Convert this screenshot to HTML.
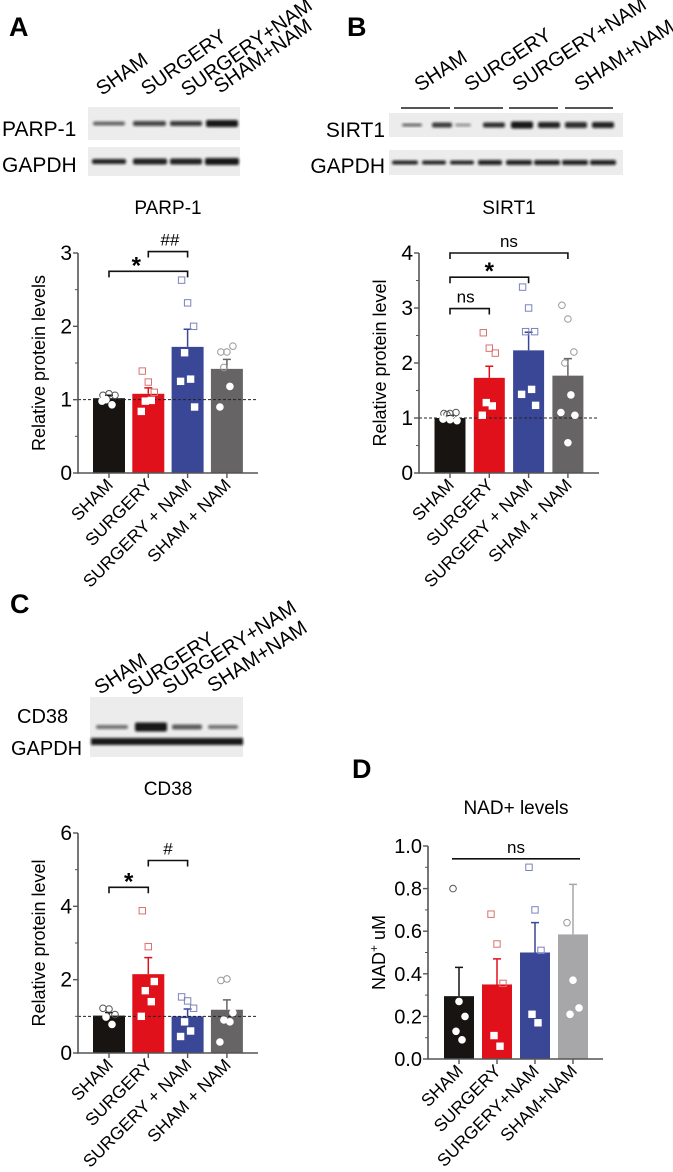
<!DOCTYPE html>
<html><head><meta charset="utf-8"><style>
html,body{margin:0;padding:0;background:#fff;}
svg{display:block;font-family:"Liberation Sans",Arial,sans-serif;}
</style></head><body>
<svg id="fig" width="673" height="1172" viewBox="0 0 673 1172" xmlns="http://www.w3.org/2000/svg">
<defs><filter id="bl" x="-10%" y="-50%" width="120%" height="200%"><feGaussianBlur stdDeviation="1.2"/></filter></defs>
<g font-weight="bold" font-size="27">
<text x="9" y="36">A</text>
<text x="347" y="36">B</text>
<text x="10" y="613">C</text>
<text x="352" y="778">D</text>
</g>
<g id="blots"></g>
<g id="charts"></g>
</svg>
<script>
// ---------- data ----------
const catsWide = ["SHAM","SURGERY","SURGERY + NAM","SHAM + NAM"];
const catsD = ["SHAM","SURGERY","SURGERY+NAM","SHAM+NAM"];
const laneLabels = ["SHAM","SURGERY","SURGERY+NAM","SHAM+NAM"];

const parpMeans = [1.02,1.08,1.72,1.42];
const parpErr = [1.06,1.16,1.96,1.55];
const parpPts = [[1.06,1.08,1.06,1.0,0.93,0.98],[1.39,1.24,1.1,0.98,0.99,0.84],[2.63,2.32,2.0,1.64,1.28,1.25,0.9],[1.65,1.65,1.73,1.44,1.18,0.9]];
const parpTicks = [0,1,2,3];

const sirtMeans = [1.0,1.73,2.23,1.77];
const sirtErr = [1.04,1.94,2.56,2.08];
const sirtPts = [[1.08,1.08,1.1,1.06,1.0,0.98,0.95,0.97],[2.55,2.27,2.18,1.28,1.22,1.05],[3.38,3.0,2.57,2.57,1.52,1.43,1.23],[3.05,2.8,2.2,2.0,1.42,1.1,1.05,0.55]];
const sirtTicks = [0,1,2,3,4];

const cdMeans = [1.02,2.15,1.0,1.18];
const cdErr = [1.1,2.6,1.2,1.45];
const cdPts = [[1.22,1.2,1.05,0.98,0.78],[3.88,2.9,1.95,1.7,1.4,1.0],[1.53,1.42,1.22,0.85,0.6,0.45],[1.98,2.02,1.1,0.9,0.85,0.3]];
const cdTicks = [0,2,4,6];

const nadMeans = [0.295,0.35,0.50,0.585];
const nadErr = [0.43,0.47,0.64,0.82];
const nadPts = [[0.80,0.27,0.20,0.13,0.09],[0.68,0.54,0.355,0.11,0.06],[0.90,0.70,0.51,0.21,0.17],[0.64,0.37,0.24,0.21]];
const nadTicks = ["0.0","0.2","0.4","0.6","0.8","1.0"];

// ---------- helpers ----------
const NS="http://www.w3.org/2000/svg";
function mk(tag,attrs,parent){const e=document.createElementNS(NS,tag);for(const k in attrs)e.setAttribute(k,attrs[k]);parent.appendChild(e);return e;}
const cols=["#171411","#e1111b","#3a4797","#676465"];
const lightCols=["#555","#d8726f","#7b82bb","#9a9899"];

function chart(o){
  const g=mk('g',{},document.getElementById('charts'));
  
  
  const ys=v=>o.y0-(v-0)*(o.y0-o.yTop)/o.ymax;
  const xs=i=>o.c0+i*o.step;
  const t=mk('text',{x:o.titleX,y:o.titleY,'text-anchor':'middle','font-size':19},g);t.textContent=o.title;
  
  
  o.means.forEach((m,i)=>{
    const r=mk('rect',{x:xs(i)-o.bw/2,y:ys(m),width:o.bw,height:o.y0-ys(m),fill:o.colors[i]},g);
    
    
    const e=mk('path',{d:`M${xs(i)},${ys(m)}V${ys(o.err[i])}M${xs(i)-4},${ys(o.err[i])}H${xs(i)+4}`,stroke:o.colors[i],'stroke-width':1.5,fill:'none'},g);
    
    
  });
  if(o.dashed){const d=mk('line',{x1:o.x0,x2:o.xEnd,y1:ys(1),y2:ys(1),stroke:'#222','stroke-width':1,'stroke-dasharray':'3,2'},g);
    
    }
  o.pts.forEach((arr,i)=>{
    arr.forEach((v,j)=>{
      const off=[-6,0,6,-3,3,-7,7,0][j%8];
      const x=xs(i)+off,y=ys(v);
      const inside=v<o.means[i];
      const stroke=inside?'#fff':lightCols[i];
      const fill=inside?'#fff':'none';
      let p;
      if(o.shape[i]==='s') p=mk('rect',{x:x-3.2,y:y-3.2,width:6.4,height:6.4,fill:fill,stroke:stroke,'stroke-width':1},g);
      else p=mk('circle',{cx:x,cy:y,r:3.3,fill:fill,stroke:stroke,'stroke-width':1},g);
      
      
    });
  });
  const ax=mk('path',{d:`M${o.x0},${o.yTop}V${o.y0}H${o.xEnd}`,stroke:'#555','stroke-width':1.6,fill:'none'},g);
  
  
  const nt=o.ticks.length;
  o.ticks.forEach((tk,k)=>{
    const v=parseFloat(tk),y=ys(v);
    mk('line',{x1:o.x0-5,x2:o.x0,y1:y,y2:y,stroke:'#555','stroke-width':1.4},g);
    const tl=mk('text',{x:o.x0-6,y:y+7,'text-anchor':'end','font-size':o.tickFs},g);tl.textContent=tk;
    
    
    if(k<nt-1){const nv=parseFloat(o.ticks[k+1]);const s=(nv-v)/o.minor;for(let q=1;q<o.minor;q++){const yy=ys(v+q*s);mk('line',{x1:o.x0-3,x2:o.x0,y1:yy,y2:yy,stroke:'#555','stroke-width':1},g);}}
  });
  const yt=mk('text',{transform:`translate(${o.ylx},${(o.y0+o.yTop)/2}) rotate(-90)`,'text-anchor':'middle','font-size':18},g);
  if(o.ylabelSup){yt.textContent='NAD';const ts=mk('tspan',{dy:-7,'font-size':12},yt);ts.textContent='+';const t2=mk('tspan',{dy:7},yt);t2.textContent=' uM';}
  else yt.textContent=o.ylabel;
  
  
  o.cats.forEach((c,i)=>{
    mk('line',{x1:xs(i),x2:xs(i),y1:o.y0,y2:o.y0+5,stroke:'#555','stroke-width':1.4},g);
    const xl=mk('text',{transform:`translate(${xs(i)+5},${o.y0+13}) rotate(-45)`,'text-anchor':'end','font-size':17.5},g);
    xl.textContent=c;
    
    
  });
  (o.stats||[]).forEach(s=>{
    const y=ys(s.v);
    const d=s.flat?`M${xs(s.a)-s.ext},${y}H${xs(s.b)+s.ext}`:`M${xs(s.a)},${y+6}V${y}H${xs(s.b)}V${y+6}`;
    const b=mk('path',{d:d,stroke:'#111','stroke-width':1.6,fill:'none'},g);
    
    
    const st=mk('text',{x:(xs(s.a)+xs(s.b))/2+(s.dx||0),y:y-(s.lab==='*'?-2:6),'text-anchor':'middle','font-size':s.lab==='*'?24:17,'font-weight':s.lab==='*'?'bold':'normal'},g);
    st.textContent=s.lab;
    
    
  });
}

chart({name:'parp1-chart',title:'PARP-1',titleX:168,titleY:214,x0:78,xEnd:258,y0:473,yTop:253,ymax:3,c0:109,step:39.3,bw:32,
  means:parpMeans,err:parpErr,pts:parpPts,ticks:parpTicks.map(String),minor:2,tickFs:21,ylx:45,ylabel:'Relative protein levels',
  cats:catsWide,colors:cols,shape:['c','s','s','c'],dashed:true,
  stats:[{a:0,b:2,v:2.75,lab:'*',dx:-12},{a:1,b:2,v:3.02,lab:'##',dx:2}]});
chart({name:'sirt1-chart',title:'SIRT1',titleX:509,titleY:214,x0:419,xEnd:599,y0:473,yTop:253,ymax:4,c0:450,step:39.3,bw:31,
  means:sirtMeans,err:sirtErr,pts:sirtPts,ticks:sirtTicks.map(String),minor:2,tickFs:21,ylx:386,ylabel:'Relative protein level',
  cats:catsWide,colors:cols,shape:['c','s','s','c'],dashed:true,
  stats:[{a:0,b:3,v:4.0,lab:'ns'},{a:0,b:2,v:3.56,lab:'*'},{a:0,b:1,v:2.99,lab:'ns',dx:-4}]});
chart({name:'cd38-chart',title:'CD38',titleX:168,titleY:795,x0:78,xEnd:258,y0:1053,yTop:833,ymax:6,c0:109,step:39.3,bw:32,
  means:cdMeans,err:cdErr,pts:cdPts,ticks:cdTicks.map(String),minor:2,tickFs:21,ylx:45,ylabel:'Relative protein level',
  cats:catsWide,colors:cols,shape:['c','s','s','c'],dashed:true,
  stats:[{a:0,b:1,v:4.52,lab:'*'},{a:1,b:2,v:5.25,lab:'#'}]});
chart({name:'nad-chart',title:'NAD+ levels',titleX:516,titleY:814,x0:428,xEnd:603,y0:1059,yTop:846,ymax:1,c0:459,step:38,bw:30,
  means:nadMeans,err:nadErr,pts:nadPts,ticks:nadTicks,minor:2,tickFs:20,ylx:385,ylabelSup:true,
  cats:catsD,colors:["#171411","#e1111b","#3a4797","#a7a6a9"],shape:['c','s','s','c'],dashed:false,
  stats:[{a:0,b:3,v:0.94,lab:'ns',flat:true,ext:7}]});

// ---------- blots ----------
const B=document.getElementById('blots');
function lbl(x,y,t,anchor,fs,name){const e=mk('text',{x:x,y:y,'font-size':fs||19,'text-anchor':anchor||'start'},B);e.textContent=t;}
function lanes(starts,fs,ang){laneLabels.forEach((t,i)=>{const e=mk('text',{transform:`translate(${starts[i][0]},${starts[i][1]}) rotate(${ang})`,'font-size':fs},B);e.textContent=t;});}
function blot(x,y,w,h,bands,name){const g=mk('g',{},B);
  mk('rect',{x:x,y:y,width:w,height:h,fill:'#ececec'},g);
  bands.forEach(b=>mk('rect',{x:b[0],y:y+h/2-b[2]/2,width:b[1],height:b[2],rx:2,fill:'#111',opacity:b[3],filter:'url(#bl)'},g));}
// A
lanes([[102,96],[147,96],[187,97],[220,94]],20,-35);
lbl(2,136,'PARP-1','start',21,'parp1-label');lbl(2,172,'GAPDH','start',21,'gapdh-label');
blot(88,107,152,33,[[93,32,4,0.6],[133,33,5,0.75],[170,32,5,0.8],[206,32,7,0.95]],'parp1-blot');
blot(88,147,152,29,[[92,34,5,0.9],[133,34,6,0.9],[170,32,6,0.9],[205,34,7,0.95]],'parp1-gapdh-blot');
// B
lanes([[420,92],[470,92],[518,92],[580,92]],20,-33);
[[401,450],[454,503],[509,558],[565,613]].forEach(s=>{const l=mk('line',{x1:s[0],x2:s[1],y1:108,y2:108,stroke:'#555','stroke-width':2},B);});
lbl(385,137,'SIRT1','end',21,'sirt1-label');lbl(385,173,'GAPDH','end',21,'gapdh-label');
blot(389,113,234,24,[[402,20,3,0.6],[432,20,5,0.8],[455,16,3,0.4],[483,22,5,0.85],[511,22,7,0.95],[538,22,6,0.9],[565,22,6,0.85],[592,22,6,0.9]],'sirt1-blot');
blot(389,150,234,25,[[392,26,4,0.9],[422,24,4,0.9],[450,24,4,0.9],[478,24,5,0.9],[506,26,5,0.9],[534,26,5,0.9],[562,26,5,0.9],[590,26,5,0.9]],'sirt1-gapdh-blot');
// C
lanes([[100,695],[133,696],[168,695],[213,693]],20,-33);
lbl(17,723,'CD38','start',20,'cd38-label');lbl(11,755,'GAPDH','start',20,'gapdh-label');
blot(90,697,153,60,[[96,32,4,0.55],[135,32,9,0.95],[172,30,5,0.65],[208,30,4,0.55]],'cd38-blot');
mk('rect',{x:91,y:738,width:152,height:7,fill:'#111',filter:'url(#bl)',opacity:0.95},B);
</script>
</body></html>
